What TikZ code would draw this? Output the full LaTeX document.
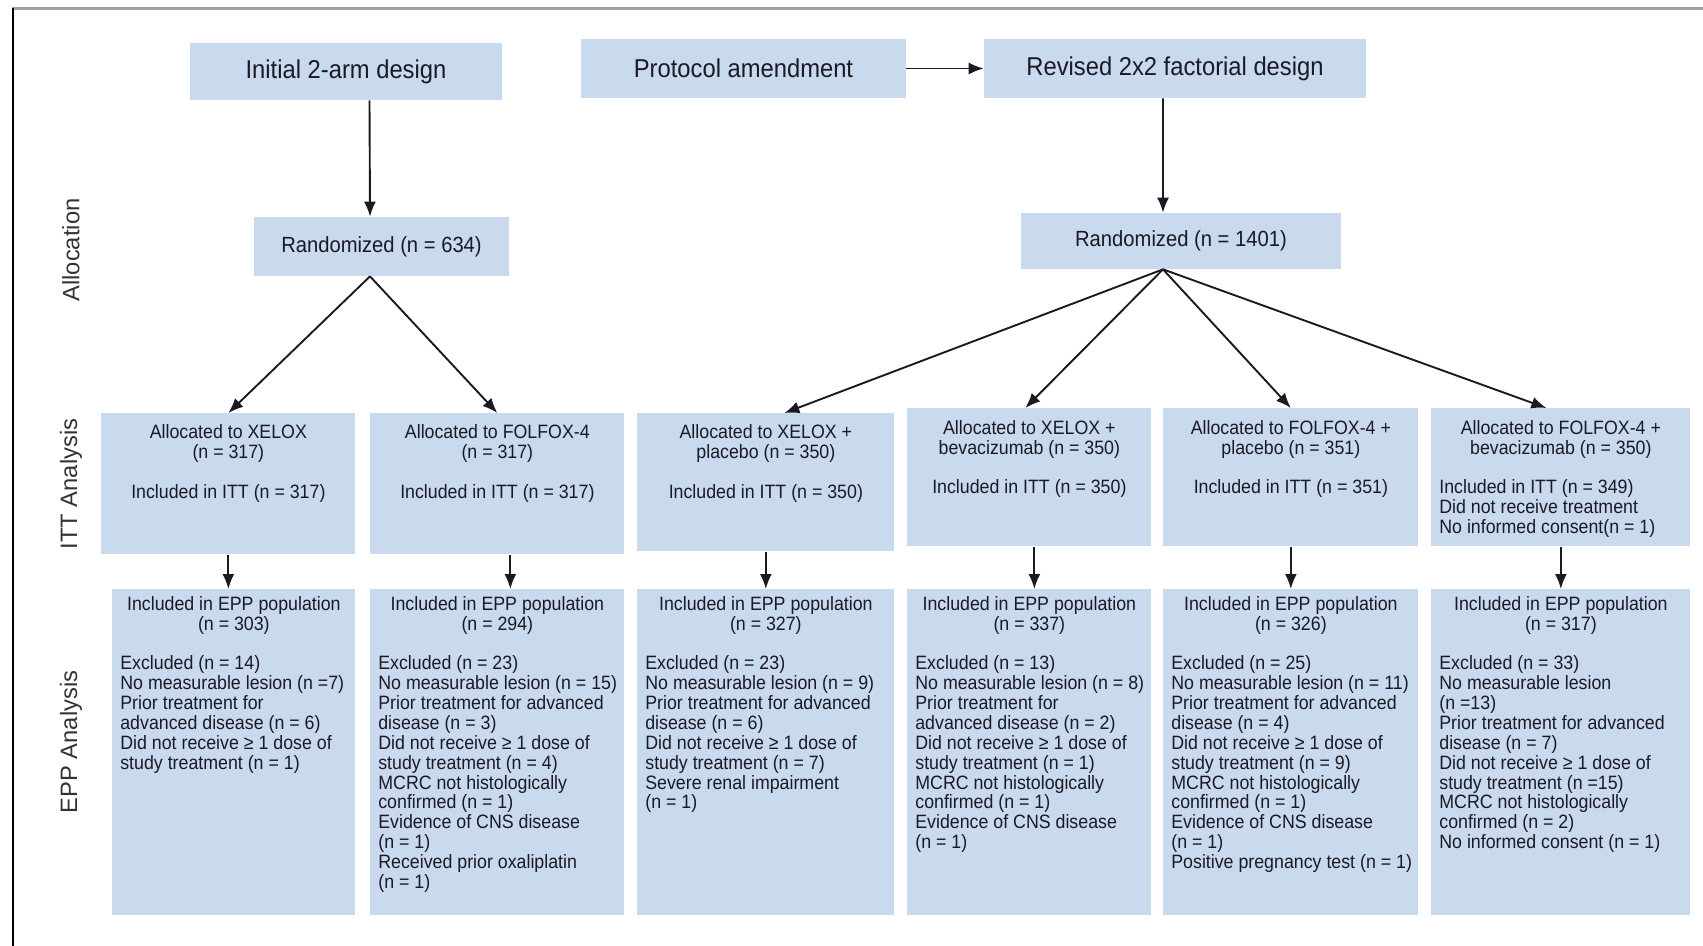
\documentclass[tikz,border=0pt]{standalone}
\usepackage{fontspec}
\setmainfont{Liberation Sans}[FakeStretch=0.92]
\newfontfamily\sidefont{Liberation Sans}
\usepackage{tikz}
\usetikzlibrary{arrows.meta, positioning, calc}
\definecolor{cellblue}{HTML}{C9D9EE}
\definecolor{inkdark}{HTML}{1A1A24}
\definecolor{framegrey}{HTML}{A0A0A0}
\newlength{\px}
\setlength{\px}{0.02cm}
\newcommand{\cellbox}[4][0]{%
  \parbox[c][\dimexpr#3\px-14\px\relax][t]{\dimexpr#2\px-16\px\relax}{%
    \vspace*{#1\px}\rightskip=-2em plus 1fil\relax #4\par}}

\begin{document}
\begin{tikzpicture}[x=0.02cm, y=-0.02cm,
    hdr/.style={fill=cellblue, text=inkdark, inner sep=0pt,
      font=\fontsize{14.7}{16}\selectfont},
    randbox/.style={hdr, font=\fontsize{12.5}{14}\selectfont},
    cell/.style={anchor=north west, fill=cellblue, text=inkdark,
      inner xsep=0.16cm, inner ysep=0.14cm,
      font=\fontsize{11}{11.3}\selectfont},
    side/.style={rotate=90, text=black!80,
      font=\sidefont\fontsize{13.5}{15}\selectfont},
    arr/.style={draw=inkdark, line width=0.038cm,
      -{Latex[length=0.3cm, width=0.24cm]}}]
  \useasboundingbox (0,0) rectangle (1703,946);
  \draw[framegrey, line width=0.06cm] (12,9) -- (1703,9);
  \draw[black, line width=0.04cm] (13,8) -- (13,946);

  \node[side] (lalloc) at (71,250) {Allocation};
  \node[side] (litt) at (71,484) {ITT Analysis};
  \node[side] (lepp) at (71,742) {EPP Analysis};

  \node[hdr, minimum width=6.26cm, minimum height=1.14cm] (init) at (346,71.5) {Initial 2-arm design};
  \node[hdr, minimum width=6.5cm, minimum height=1.18cm] (amend) at (743.5,68.5) {Protocol amendment};
  \node[hdr, minimum width=7.64cm, minimum height=1.18cm] (revised) at (1175,68.5) {Revised 2x2 factorial design};
  \node[randbox, minimum width=5.1cm, minimum height=1.18cm] (rand1) at (381.5,246.5) {Randomized (n = 634)};
  \node[randbox, minimum width=6.4cm, minimum height=1.12cm] (rand2) at (1181,241) {Randomized (n = 1401)};

  \node[cell] (itt1) at (101,413) {\cellbox[4.5]{254}{141}{{\centering Allocated to XELOX\\(n = 317)\\[\baselineskip]Included in ITT (n = 317)\par}}};
  \node[cell] (itt2) at (370,413) {\cellbox[4.5]{254}{141}{{\centering Allocated to FOLFOX-4\\(n = 317)\\[\baselineskip]Included in ITT (n = 317)\par}}};
  \node[cell] (itt3) at (637,413) {\cellbox[4.5]{257}{138}{{\centering Allocated to XELOX +\\placebo (n = 350)\\[\baselineskip]Included in ITT (n = 350)\par}}};
  \node[cell] (itt4) at (907,408) {\cellbox[5]{244}{138}{{\centering Allocated to XELOX +\\bevacizumab (n = 350)\\[\baselineskip]Included in ITT (n = 350)\par}}};
  \node[cell] (itt5) at (1163,408) {\cellbox[5]{255}{138}{{\centering Allocated to FOLFOX-4 +\\placebo (n = 351)\\[\baselineskip]Included in ITT (n = 351)\par}}};
  \node[cell] (itt6) at (1431,408) {\cellbox[5]{259}{138}{{\centering Allocated to FOLFOX-4 +\\bevacizumab (n = 350)\par}\vspace{\baselineskip}
    Included in ITT (n = 349)\\Did not receive treatment\\No informed consent(n = 1)}};

  \node[cell] (epp1) at (112,589) {\cellbox{243}{326}{{\centering Included in EPP population\\(n = 303)\par}\vspace{\baselineskip}
    Excluded (n = 14)\\No measurable lesion (n =7)\\Prior treatment for\\advanced disease (n = 6)\\Did not receive ≥ 1 dose of\\study treatment (n = 1)}};
  \node[cell] (epp2) at (370,589) {\cellbox{254}{326}{{\centering Included in EPP population\\(n = 294)\par}\vspace{\baselineskip}
    Excluded (n = 23)\\No measurable lesion (n = 15)\\Prior treatment for advanced\\disease (n = 3)\\Did not receive ≥ 1 dose of\\study treatment (n = 4)\\MCRC not histologically\\confirmed (n = 1)\\Evidence of CNS disease\\(n = 1)\\Received prior oxaliplatin\\(n = 1)}};
  \node[cell] (epp3) at (637,589) {\cellbox{257}{326}{{\centering Included in EPP population\\(n = 327)\par}\vspace{\baselineskip}
    Excluded (n = 23)\\No measurable lesion (n = 9)\\Prior treatment for advanced\\disease (n = 6)\\Did not receive ≥ 1 dose of\\study treatment (n = 7)\\Severe renal impairment\\(n = 1)}};
  \node[cell] (epp4) at (907,589) {\cellbox{244}{326}{{\centering Included in EPP population\\(n = 337)\par}\vspace{\baselineskip}
    Excluded (n = 13)\\No measurable lesion (n = 8)\\Prior treatment for\\advanced disease (n = 2)\\Did not receive ≥ 1 dose of\\study treatment (n = 1)\\MCRC not histologically\\confirmed (n = 1)\\Evidence of CNS disease\\(n = 1)}};
  \node[cell] (epp5) at (1163,589) {\cellbox{255}{326}{{\centering Included in EPP population\\(n = 326)\par}\vspace{\baselineskip}
    Excluded (n = 25)\\No measurable lesion (n = 11)\\Prior treatment for advanced\\disease (n = 4)\\Did not receive ≥ 1 dose of\\study treatment (n = 9)\\MCRC not histologically\\confirmed (n = 1)\\Evidence of CNS disease\\(n = 1)\\Positive pregnancy test (n = 1)}};
  \node[cell] (epp6) at (1431,589) {\cellbox{259}{326}{{\centering Included in EPP population\\(n = 317)\par}\vspace{\baselineskip}
    Excluded (n = 33)\\No measurable lesion\\(n =13)\\Prior treatment for advanced\\disease (n = 7)\\Did not receive ≥ 1 dose of\\study treatment (n =15)\\MCRC not histologically\\confirmed (n = 2)\\No informed consent (n = 1)}};

  \draw[arr] (amend) -- (revised);
  \draw[arr] ([xshift=0.47cm]init.south) -- ([xshift=-0.23cm]rand1.north);
  \draw[arr] ([xshift=-0.24cm]revised.south) -- ([xshift=-0.36cm]rand2.north);
  \draw[arr] ([xshift=-0.23cm]rand1.south) -- (itt1.north);
  \draw[arr] ([xshift=-0.23cm]rand1.south) -- (itt2.north);
  \foreach \t/\dx in {itt3/0.37, itt4/-0.08, itt5/0, itt6/-0.29}
    \draw[arr] ([xshift=-0.36cm]rand2.south) -- ([xshift=\dx cm]\t.north);
  \foreach \i/\dx in {1/0, 2/0.26, 3/0, 4/0.1, 5/0, 6/0}
    \draw[arr] ([xshift=\dx cm]itt\i.south) -- ([xshift=\dx cm]itt\i.south |- epp\i.north);
\end{tikzpicture}
\end{document}
